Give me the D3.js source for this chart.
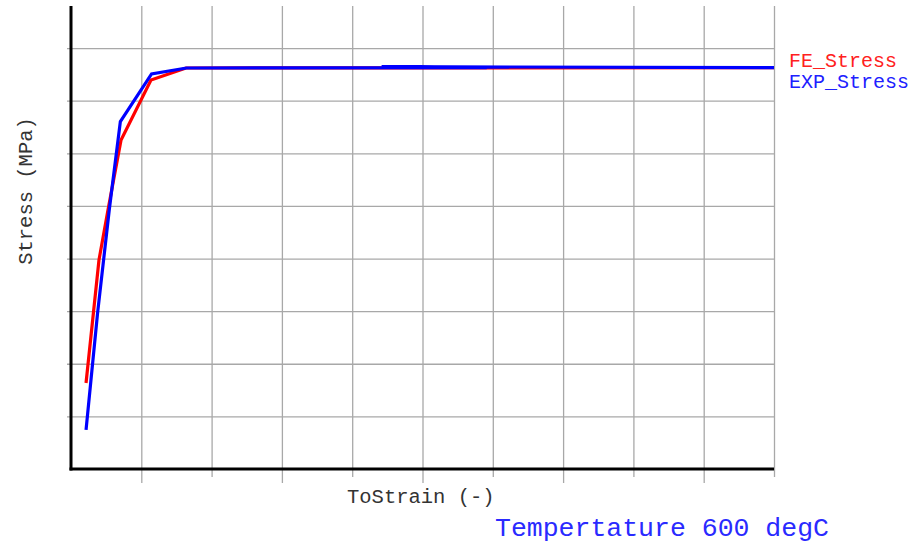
<!DOCTYPE html>
<html><head><meta charset="utf-8">
<script src="https://cdn.jsdelivr.net/npm/d3@7"></script>
<style>html,body{margin:0;padding:0;background:#fff;}svg{display:block;}</style>
</head><body>
<svg id="chart" width="917" height="543"></svg>
<script>
// ---- data ----
const xTicks = [0.05,0.10,0.15,0.20,0.25,0.30,0.35,0.40,0.45,0.50];
const yTicks = [50,100,150,200,250,300,350,400];
const feStrain = [0.0107,0.0199,0.0263,0.0356,0.0569,0.0818,0.5];
const feStress = [81.7,198.6,246.1,312.7,369.7,381.1,381.4];
const expStrain = [0.0107,0.0189,0.0272,0.0351,0.0573,0.0821,0.2957,0.2210,0.5];
const expStress = [37.1,148.2,246.1,330.2,375.4,381.1,381.4,382.3,381.4];
const seriesNames = ["FE_Stress","EXP_Stress"];
const xLabel = "ToStrain (-)";
const yLabel = "Stress (MPa)";
const title = "Tempertature 600 degC";

const svg = d3.select("#chart");
const L = 71, T = 6, R = 774, B = 469;
const x = d3.scaleLinear().domain([0,0.5]).range([L,R]);
const y = d3.scaleLinear().domain([0,440]).range([B,T]);
const font = "'Liberation Mono','Courier New',monospace";

// grid (vertical)
const gx = svg.append("g").attr("transform",`translate(0,${B})`)
  .call(d3.axisBottom(x).tickValues(xTicks).tickFormat(()=>"").tickSizeOuter(0).tickSize(0));
gx.select(".domain").remove();
gx.selectAll(".tick line")
  .attr("y1",(d,i)=> i%2===0 ? 14 : 8)
  .attr("y2", T-B)
  .attr("stroke","#a8a8a8").attr("stroke-width",1.3);

// grid (horizontal)
const gy = svg.append("g").attr("transform",`translate(${L},0)`)
  .call(d3.axisLeft(y).tickValues(yTicks).tickFormat(()=>"").tickSizeOuter(0).tickSize(4));
gy.select(".domain").remove();
gy.selectAll(".tick line").attr("x2", R-L)
  .attr("x1",-4)
  .attr("stroke","#a8a8a8").attr("stroke-width",1.3);

// axes lines
svg.append("line").attr("x1",L).attr("x2",L).attr("y1",T).attr("y2",B+1.5)
  .attr("stroke","#000").attr("stroke-width",3);
svg.append("line").attr("x1",L-1.5).attr("x2",R).attr("y1",B).attr("y2",B)
  .attr("stroke","#000").attr("stroke-width",3);

// series
const line = d3.line().x(d=>x(d[0])).y(d=>y(d[1]));
const fe = feStrain.map((v,i)=>[v,feStress[i]]);
const ex = expStrain.map((v,i)=>[v,expStress[i]]);
svg.append("path").datum(fe).attr("d",line).attr("fill","none")
  .attr("stroke","#ff0000").attr("stroke-width",3.2).attr("stroke-linejoin","miter");
svg.append("path").datum(ex).attr("d",line).attr("fill","none")
  .attr("stroke","#0000ff").attr("stroke-width",3.2).attr("stroke-linejoin","miter");

// legend
const legColors = ["#ff2020","#2020ff"];
seriesNames.forEach((n,i)=>{
  svg.append("text").attr("x",789).attr("y",67+i*21).text(n)
    .attr("font-family",font).attr("font-size",20).attr("fill",legColors[i]);
});

// axis labels
svg.append("text").attr("x",347).attr("y",503).text(xLabel)
  .attr("font-family",font).attr("font-size",20.5).attr("fill","#333");
svg.append("text").attr("transform","translate(32,191) rotate(-90)")
  .attr("text-anchor","middle").text(yLabel)
  .attr("font-family",font).attr("font-size",20.5).attr("fill","#333");
svg.append("text").attr("x",495).attr("y",536).text(title)
  .attr("font-family",font).attr("font-size",26.5).attr("fill","#2a2aff");
</script>
</body></html>
